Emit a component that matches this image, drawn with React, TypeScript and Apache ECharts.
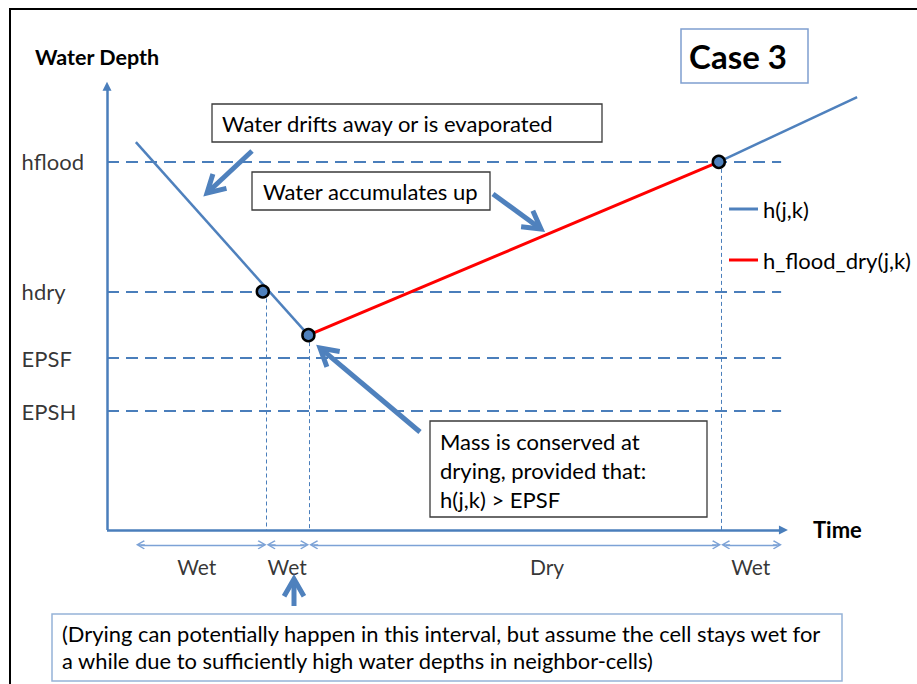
import React, { useEffect, useRef } from 'react';
import * as echarts from 'echarts';

// ---- data (time units on x, depth units on y) ----
const levelNames = ['hflood', 'hdry', 'EPSF', 'EPSH'];
const levelDepths = [8.18, 5.3, 3.82, 2.64];
const hSegment1 = [[0.38, 8.62], [2.65, 4.33]];
const hSegment2 = [[8.05, 8.18], [9.87, 9.62]];
const floodDrySegment = [[2.65, 4.33], [8.05, 8.18]];
const eventPoints = [[2.05, 5.3], [2.65, 4.33], [8.05, 8.18]];
const eventTimes = [2.1, 2.66, 8.08];
const eventDepths = [5.3, 4.33, 8.18];
const intervalBounds = [0.38, 2.1, 2.66, 8.08, 8.88];
const intervalLabels = ['Wet', 'Wet', 'Dry', 'Wet'];
const intervalLabelTimes = [1.18, 2.37, 5.79, 8.47];
const levelLineEnd = 8.87;
const timeAxisEnd = 8.96;
const depthAxisEnd = 9.96;
const intervalArrowDepth = -0.33;
const intervalLabelDepth = -0.82;
const levelLabelTime = -1.13;

// ---- layout ----
const W = 917;
const H = 684;
const X0 = 107; // px of time 0
const XS = 76; // px per time unit
const Y0 = 530; // px of depth 0
const YS = 45; // px per depth unit

const FONT = 'Lato';
const AXIS_BLUE = '#4a7ebb';
const LINE_BLUE = '#4f81bd';
const LIGHT_BLUE = '#7ca2d6';

const chevron = 'path://M5,0L10,7L9,8L5,2.5L1,8L0,7ZM4.4,2.4L5.6,2.4L5.6,8L4.4,8Z';

function arrow(x1: number, y1: number, x2: number, y2: number) {
  const ang = Math.atan2(y2 - y1, x2 - x1);
  const len = 20;
  const half = 0.52;
  const a1 = ang + Math.PI - half;
  const a2 = ang + Math.PI + half;
  return [
    {
      type: 'line',
      shape: { x1, y1, x2: x2 - 3 * Math.cos(ang), y2: y2 - 3 * Math.sin(ang) },
      style: { stroke: LINE_BLUE, lineWidth: 5 },
      z: 20,
    },
    {
      type: 'polyline',
      shape: {
        points: [
          [x2 + len * Math.cos(a1), y2 + len * Math.sin(a1)],
          [x2, y2],
          [x2 + len * Math.cos(a2), y2 + len * Math.sin(a2)],
        ],
      },
      style: { stroke: LINE_BLUE, lineWidth: 5, fill: null, lineJoin: 'miter' },
      z: 20,
    },
  ];
}

function textEl(x: number, y: number, text: string, fontSize: number, bold = false, extra: any = {}) {
  return {
    type: 'text',
    x,
    y,
    z: 30,
    style: {
      text,
      fontSize,
      fontFamily: FONT,
      fontWeight: bold ? 'bold' : 'normal',
      fill: '#000',
      align: 'left',
      verticalAlign: 'middle',
      textAlign: 'left',
      textVerticalAlign: 'middle',
      ...extra,
    },
  };
}

function box(x: number, y: number, w: number, h: number, stroke: string, lw = 1.3) {
  return {
    type: 'rect',
    shape: { x, y, width: w, height: h },
    style: { fill: '#fff', stroke, lineWidth: lw },
    z: 25,
  };
}

export default function App() {
  const ref = useRef<HTMLDivElement>(null);

  useEffect(() => {
    if (!ref.current) return;
    const chart = echarts.init(ref.current, undefined, { renderer: 'svg' });

    const px = 1 / XS; // one pixel in time units
    const intervalLines = intervalLabels.map((_, i) => [
      { coord: [intervalBounds[i] + 4.5 * px, intervalArrowDepth] },
      { coord: [intervalBounds[i + 1] - 4.5 * px, intervalArrowDepth] },
    ]);

    const option: any = {
      animation: false,
      grid: { left: 0, right: 0, top: 0, bottom: 0 },
      xAxis: { type: 'value', min: -X0 / XS, max: (W - X0) / XS, show: false },
      yAxis: { type: 'value', min: -(H - Y0) / YS, max: Y0 / YS, show: false },
      legend: {
        orient: 'vertical',
        left: 729,
        top: 198,
        padding: 0,
        itemWidth: 29,
        itemHeight: 3,
        itemGap: 29,
        icon: 'rect',
        data: ['h(j,k)', 'h_flood_dry(j,k)'],
        textStyle: { fontSize: 22, fontFamily: FONT, color: '#000' },
        selectedMode: false,
      },
      series: [
        {
          name: 'h(j,k)',
          type: 'line',
          data: hSegment1,
          color: LINE_BLUE,
          symbol: 'none',
          lineStyle: { color: LINE_BLUE, width: 2.5 },
          z: 5,
          silent: true,
        },
        {
          name: 'h(j,k)',
          type: 'line',
          data: hSegment2,
          color: LINE_BLUE,
          symbol: 'none',
          lineStyle: { color: LINE_BLUE, width: 2.5 },
          z: 5,
          silent: true,
        },
        {
          name: 'h_flood_dry(j,k)',
          type: 'line',
          data: floodDrySegment,
          color: '#ff0000',
          symbol: 'none',
          lineStyle: { color: '#ff0000', width: 3 },
          z: 5,
          silent: true,
        },
        {
          name: 'events',
          type: 'scatter',
          data: eventPoints,
          symbolSize: 12,
          itemStyle: { color: LINE_BLUE, borderColor: '#000', borderWidth: 2.5, opacity: 1 },
          z: 10,
          silent: true,
        },
        // axes and guide lines
        {
          name: 'axes',
          type: 'line',
          data: [],
          silent: true,
          markLine: {
            silent: true,
            animation: false,
            symbol: ['none', 'triangle'],
            symbolSize: 9,
            label: { show: false },
            lineStyle: { color: AXIS_BLUE, width: 2.5, type: 'solid' },
            emphasis: { disabled: true },
            data: [
              [{ coord: [0, 0] }, { coord: [timeAxisEnd - 4.5 / XS, 0] }],
              [{ coord: [0, 0] }, { coord: [0, depthAxisEnd - 4.5 / YS] }],
            ],
          },
        },
        {
          name: 'levels',
          type: 'line',
          data: [],
          silent: true,
          markLine: {
            silent: true,
            animation: false,
            symbol: ['none', 'none'],
            label: { show: false },
            lineStyle: { color: AXIS_BLUE, width: 2, type: [12, 7] },
            emphasis: { disabled: true },
            data: levelDepths.map((d) => [{ coord: [0, d] }, { coord: [levelLineEnd, d] }]),
          },
        },
        {
          name: 'eventTimes',
          type: 'line',
          data: [],
          silent: true,
          markLine: {
            silent: true,
            animation: false,
            symbol: ['none', 'none'],
            label: { show: false },
            lineStyle: { color: AXIS_BLUE, width: 1, type: [4, 3] },
            emphasis: { disabled: true },
            data: eventTimes.map((t, i) => [{ coord: [t, eventDepths[i]] }, { coord: [t, 0] }]),
          },
        },
        {
          name: 'intervals',
          type: 'line',
          data: [],
          silent: true,
          markLine: {
            silent: true,
            animation: false,
            symbol: [chevron, chevron],
            symbolSize: 9,
            symbolKeepAspect: false,
            label: { show: false },
            itemStyle: { color: LIGHT_BLUE },
            lineStyle: { color: LIGHT_BLUE, width: 1.3, type: 'solid' },
            emphasis: { disabled: true },
            data: intervalLines,
          },
        },
        {
          name: 'levelLabels',
          type: 'scatter',
          silent: true,
          symbolSize: 1,
          itemStyle: { color: 'transparent' },
          data: levelNames.map((n, i) => ({ name: n, value: [levelLabelTime, levelDepths[i]] })),
          label: {
            show: true,
            position: 'right',
            distance: 0,
            formatter: '{b}',
            fontSize: 22,
            fontFamily: FONT,
            color: '#000',
          },
        },
        {
          name: 'intervalLabels',
          type: 'scatter',
          silent: true,
          symbolSize: 1,
          itemStyle: { color: 'transparent' },
          data: intervalLabels.map((n, i) => ({ name: n, value: [intervalLabelTimes[i], intervalLabelDepth] })),
          label: {
            show: true,
            position: 'inside',
            formatter: '{b}',
            fontSize: 21,
            fontFamily: FONT,
            color: '#000',
          },
        },
      ],
      graphic: [
        // outer frame
        { type: 'line', shape: { x1: 10, y1: 9, x2: 10, y2: H }, style: { stroke: '#000', lineWidth: 2 }, z: 1 },
        { type: 'line', shape: { x1: 9, y1: 9, x2: W, y2: 9 }, style: { stroke: '#000', lineWidth: 2 }, z: 1 },
        // titles
        textEl(35, 57, 'Water Depth', 21.5, true),
        textEl(813, 529, 'Time', 22, true),
        // Case 3
        box(681, 29, 127, 54, '#7f9fd0', 1.5),
        textEl(738, 56, 'Case 3', 33, true, { align: 'center', textAlign: 'center' }),
        // box 1
        box(212, 104, 390, 38, '#3a3a3a'),
        textEl(222, 123, 'Water drifts away or is evaporated', 22),
        // box 2
        box(252, 172, 238, 38, '#3a3a3a'),
        textEl(263, 191, 'Water accumulates up', 22),
        // box 3
        box(430, 421, 277, 96, '#3a3a3a'),
        textEl(440, 441, 'Mass is conserved at', 22),
        textEl(440, 470, 'drying, provided that:', 22),
        textEl(440, 499, 'h(j,k) > EPSF', 22),
        // bottom box
        box(52, 614, 790, 67, '#95b3d7', 1.5),
        textEl(62, 633, '(Drying can potentially happen in this interval, but assume the cell stays wet for', 21.9),
        textEl(62, 660, 'a while due to sufficiently high water depths in neighbor-cells)', 21.9),
        // arrows
        ...arrow(252, 151, 207, 193),
        ...arrow(493, 194, 541, 229),
        ...arrow(420, 432, 320, 348),
        ...arrow(294, 606, 294, 579),
      ],
    };

    chart.setOption(option);
    return () => chart.dispose();
  }, []);

  return (
    <div
      ref={ref}
      style={{ position: 'absolute', left: 0, top: 0, width: W, height: H, background: '#fff' }}
    />
  );
}
